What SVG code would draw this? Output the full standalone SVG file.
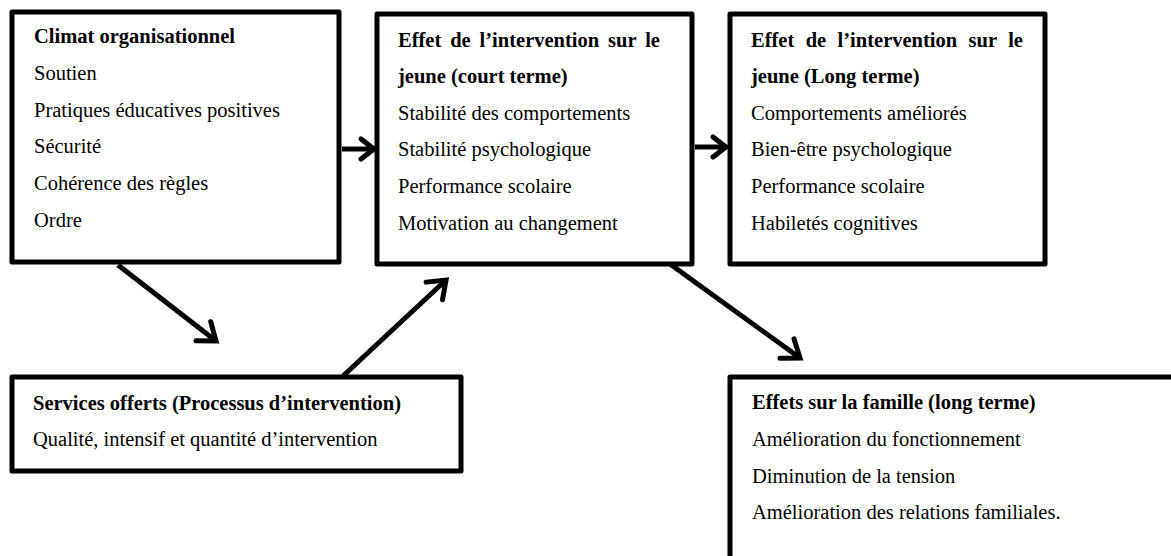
<svg xmlns="http://www.w3.org/2000/svg" width="1171" height="556" viewBox="0 0 1171 556">
  <style>
    .box { fill: #ffffff; stroke: #000000; stroke-width: 5; stroke-linejoin: round; }
    .t { font-family: "Liberation Serif", "Times New Roman", serif; font-size: 20.5px; fill: #000000; }
    .b { font-weight: bold; }
    .link { fill: none; stroke: #000000; stroke-width: 5; }
    .short { marker-end: url(#chevron); }
    .long { marker-end: url(#chevron-lg); }
  </style>
  <defs>
    <marker id="chevron" markerUnits="userSpaceOnUse" markerWidth="40" markerHeight="40" refX="0" refY="0" orient="auto" overflow="visible">
      <path d="M-13,-10 L0,0 L-13,10" fill="none" stroke="#000000" stroke-width="5" stroke-linecap="round" stroke-linejoin="miter"/>
    </marker>
    <marker id="chevron-lg" markerUnits="userSpaceOnUse" markerWidth="50" markerHeight="50" refX="0" refY="0" orient="auto" overflow="visible">
      <path d="M-16,-12 L0,0 L-16,12" fill="none" stroke="#000000" stroke-width="5" stroke-linecap="round" stroke-linejoin="miter"/>
    </marker>
  </defs>

  <rect width="1171" height="556" fill="#ffffff"/>

  <!-- Organisational climate -->
  <g id="climat">
    <rect class="box" x="12" y="12" width="327" height="250"/>
    <text class="t b" x="34" y="43">Climat organisationnel</text>
    <text class="t" x="34" y="80">Soutien</text>
    <text class="t" x="34" y="117">Pratiques éducatives positives</text>
    <text class="t" x="34" y="153">Sécurité</text>
    <text class="t" x="34" y="190">Cohérence des règles</text>
    <text class="t" x="34" y="227">Ordre</text>
  </g>

  <!-- Short-term effect on the youth -->
  <g id="court-terme">
    <rect class="box" x="377" y="14" width="315" height="250"/>
    <text class="t b" x="398" y="47" word-spacing="3.8">Effet de l’intervention sur le</text>
    <text class="t b" x="398" y="83">jeune (court terme)</text>
    <text class="t" x="398" y="120">Stabilité des comportements</text>
    <text class="t" x="398" y="156">Stabilité psychologique</text>
    <text class="t" x="398" y="193">Performance scolaire</text>
    <text class="t" x="398" y="230">Motivation au changement</text>
  </g>

  <!-- Long-term effect on the youth -->
  <g id="long-terme">
    <rect class="box" x="730" y="14" width="315" height="250"/>
    <text class="t b" x="751" y="47" word-spacing="6.3">Effet de l’intervention sur le</text>
    <text class="t b" x="751" y="83">jeune (Long terme)</text>
    <text class="t" x="751" y="120">Comportements améliorés</text>
    <text class="t" x="751" y="156">Bien-être psychologique</text>
    <text class="t" x="751" y="193">Performance scolaire</text>
    <text class="t" x="751" y="230">Habiletés cognitives</text>
  </g>

  <!-- Services offered -->
  <g id="services">
    <rect class="box" x="12" y="377" width="449" height="94"/>
    <text class="t b" x="33" y="410">Services offerts (Processus d’intervention)</text>
    <text class="t" x="33" y="446">Qualité, intensif et quantité d’intervention</text>
  </g>

  <!-- Effects on the family (box runs past the page edge) -->
  <g id="famille">
    <rect class="box" x="730" y="377" width="480" height="220"/>
    <text class="t b" x="752" y="409">Effets sur la famille (long terme)</text>
    <text class="t" x="752" y="446">Amélioration du fonctionnement</text>
    <text class="t" x="752" y="483">Diminution de la tension</text>
    <text class="t" x="752" y="519">Amélioration des relations familiales.</text>
  </g>

  <!-- Connectors -->
  <g id="connectors">
    <line class="link short" x1="342" y1="149" x2="374" y2="149"/>
    <line class="link short" x1="695" y1="147" x2="726" y2="147"/>
    <line class="link long" x1="118" y1="265" x2="216" y2="341"/>
    <line class="link long" x1="343" y1="376" x2="446" y2="280"/>
    <line class="link long" x1="670" y1="264" x2="800" y2="358"/>
  </g>
</svg>
